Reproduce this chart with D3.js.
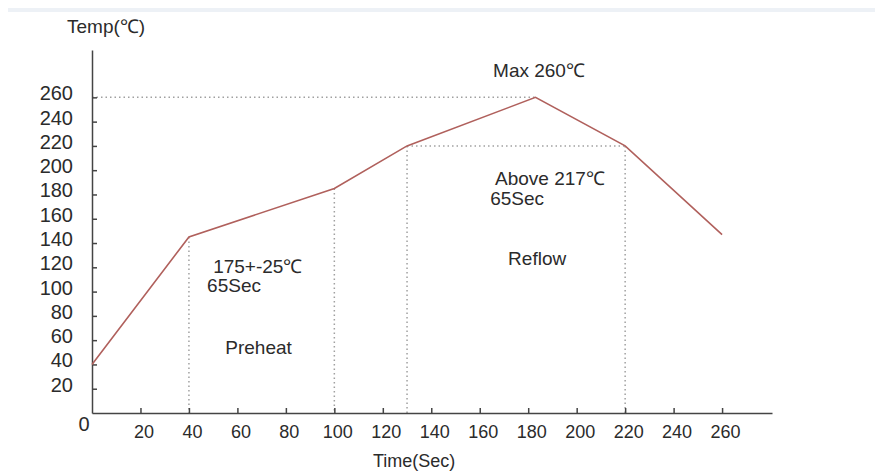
<!DOCTYPE html>
<html>
<head>
<meta charset="utf-8">
<script src="https://cdn.jsdelivr.net/npm/d3@7"></script>
<style>
  html, body { margin: 0; padding: 0; background: #fff; }
  svg { display: block; font-family: "Liberation Sans", Arial, sans-serif; }
  .axis path, .axis line { stroke: #444; stroke-width: 1.5; }
  .axis text { fill: #2b2b2b; }
</style>
</head>
<body>
<svg id="chart" width="875" height="471"></svg>
<script>
// reflow soldering profile

const profileTime = [0, 40, 100, 130, 183, 220, 260];
const profileTemp = [40, 145, 185, 220, 260, 220, 147];

const xTicks = [20, 40, 60, 80, 100, 120, 140, 160, 180, 200, 220, 240, 260];
const yTicks = [20, 40, 60, 80, 100, 120, 140, 160, 180, 200, 220, 240, 260];

// guide lines: [t1, T1, t2, T2]
const guides = [
  [0, 260, 183, 260],
  [130, 220, 220, 220],
  [40, 145, 40, 0],
  [100, 185, 100, 0],
  [130, 220, 130, 0],
  [220, 220, 220, 0]
];

// annotations: text, time, temp (baseline anchor)
const notes = [
  ['Max 260℃', 165.5, 276.5],
  ['Above 217℃', 166.3, 187.6],
  ['65Sec', 164.3, 171],
  ['Reflow', 171.7, 121.8],
  ['175+-25℃', 50, 115],
  ['65Sec', 47.5, 99.5],
  ['Preheat', 55, 48.5]
];

const svg = d3.select('#chart');

const x = d3.scaleLinear().domain([0, 280.6]).range([92, 772]);
const y = d3.scaleLinear().domain([0, 299]).range([413, 50]);

// faint band at the top
svg.append('rect')
  .attr('x', 8).attr('y', 8).attr('width', 867).attr('height', 4)
  .attr('fill', '#edf1f6');

// dotted guides
svg.append('g').selectAll('line')
  .data(guides)
  .enter().append('line')
  .attr('x1', d => x(d[0])).attr('y1', d => y(d[1]))
  .attr('x2', d => x(d[2])).attr('y2', d => y(d[3]))
  .attr('stroke', '#a0a0a0')
  .attr('stroke-width', 1.5)
  .attr('stroke-dasharray', '1.5,3');

// axes
const xAxis = svg.append('g')
  .attr('class', 'axis')
  .attr('transform', `translate(0,${y(0)})`)
  .call(d3.axisBottom(x).tickValues(xTicks).tickSizeInner(-5).tickSizeOuter(0).tickPadding(12));
xAxis.selectAll('text').attr('font-size', 18).attr('dx', 3);
xAxis.attr('font-family', null);

const yAxis = svg.append('g')
  .attr('class', 'axis')
  .attr('transform', `translate(${x(0)},0)`)
  .call(d3.axisLeft(y).tickValues(yTicks).tickSizeInner(-5).tickSizeOuter(0).tickPadding(19));
yAxis.selectAll('text').attr('font-size', 20).attr('dy', '0.12em');
yAxis.attr('font-family', null);

// origin label
svg.append('text')
  .attr('x', x(0) - 8).attr('y', y(0) + 18)
  .attr('text-anchor', 'middle')
  .attr('font-size', 20).attr('fill', '#2b2b2b')
  .text('0');

// axis titles
svg.append('text')
  .attr('x', 67).attr('y', 33)
  .attr('font-size', 19).attr('fill', '#2b2b2b')
  .text('Temp(℃)');

svg.append('text')
  .attr('x', 373).attr('y', 467)
  .attr('font-size', 18).attr('fill', '#2b2b2b')
  .text('Time(Sec)');

// profile curve
const pts = profileTime.map((t, i) => [t, profileTemp[i]]);
svg.append('path')
  .datum(pts)
  .attr('fill', 'none')
  .attr('stroke', '#b0605c')
  .attr('stroke-width', 1.6)
  .attr('d', d3.line().x(d => x(d[0])).y(d => y(d[1])));

// annotations
svg.append('g').selectAll('text')
  .data(notes)
  .enter().append('text')
  .attr('x', d => x(d[1])).attr('y', d => y(d[2]))
  .attr('font-size', 19)
  .attr('fill', '#2b2b2b')
  .text(d => d[0]);
</script>
</body>
</html>
